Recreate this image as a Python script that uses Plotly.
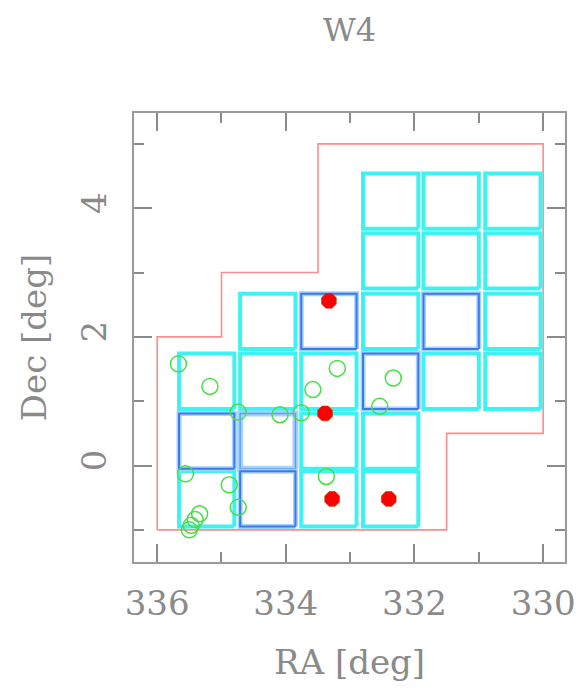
import plotly.graph_objects as go

# --- W4 field layout -------------------------------------------------------
# Survey footprint boundary (RA, Dec) in degrees
footprint_ra = [336.0, 336.0, 335.0, 335.0, 333.5, 333.5, 330.0, 330.0, 331.5, 331.5, 336.0]
footprint_dec = [-1.0, 2.0, 2.0, 3.0, 3.0, 5.0, 5.0, 0.5, 0.5, -1.0, -1.0]

# Pointing centres, grouped by status
field_half = 0.43  # half width of a pointing, deg

cyan_ra = [335.23, 333.33, 332.37,
           333.33, 332.37,
           335.23, 334.28, 333.33, 331.43, 330.47,
           334.28, 332.37, 330.47,
           332.37, 331.43, 330.47,
           332.37, 331.43, 330.47]
cyan_dec = [-0.52, -0.52, -0.52,
            0.38, 0.38,
            1.31, 1.31, 1.31, 1.31, 1.31,
            2.24, 2.24, 2.24,
            3.18, 3.18, 3.18,
            4.11, 4.11, 4.11]

light_ra = [334.28]
light_dec = [0.38]

blue_ra = [334.28, 335.23, 332.37, 333.33, 331.43]
blue_dec = [-0.52, 0.38, 1.31, 2.24, 2.24]

# Cluster candidates (open green circles)
cand_ra = [335.67, 335.18, 334.74, 334.09, 333.76, 333.58, 333.20, 332.33, 332.54,
           335.56, 334.88, 334.74, 333.37, 335.34, 335.41, 335.47, 335.50]
cand_dec = [1.58, 1.23, 0.83, 0.79, 0.82, 1.18, 1.51, 1.36, 0.92,
            -0.13, -0.30, -0.65, -0.17, -0.75, -0.84, -0.93, -1.00]

# Confirmed detections (filled red)
det_ra = [333.33, 333.39, 333.28, 332.40]
det_dec = [2.56, 0.81, -0.52, -0.52]


def square_path(ras, decs, h):
    xs, ys = [], []
    for r, d in zip(ras, decs):
        xs += [r - h, r + h, r + h, r - h, r - h, None]
        ys += [d - h, d - h, d + h, d + h, d - h, None]
    return xs, ys


fig = go.Figure()

fig.add_trace(go.Scatter(x=footprint_ra, y=footprint_dec, mode="lines",
                         line=dict(color="#ff8c8c", width=1.6), hoverinfo="skip"))

cx, cy = square_path(cyan_ra, cyan_dec, field_half)
fig.add_trace(go.Scatter(x=cx, y=cy, mode="lines",
                         line=dict(color="#3ff2f2", width=4), hoverinfo="skip"))

lx, ly = square_path(light_ra, light_dec, field_half)
fig.add_trace(go.Scatter(x=lx, y=ly, mode="lines",
                         line=dict(color="#a6d2ff", width=6), hoverinfo="skip"))
fig.add_trace(go.Scatter(x=lx, y=ly, mode="lines",
                         line=dict(color="#5e9ff5", width=1.5), hoverinfo="skip"))

bx, by = square_path(blue_ra, blue_dec, field_half)
fig.add_trace(go.Scatter(x=bx, y=by, mode="lines",
                         line=dict(color="#a6d2ff", width=5), hoverinfo="skip"))
fig.add_trace(go.Scatter(x=bx, y=by, mode="lines",
                         line=dict(color="#3a7aea", width=2), hoverinfo="skip"))

fig.add_trace(go.Scatter(x=cand_ra, y=cand_dec, mode="markers",
                         marker=dict(symbol="circle-open", size=16,
                                     line=dict(color="#45e045", width=1.5),
                                     color="#45e045"),
                         hoverinfo="skip"))

fig.add_trace(go.Scatter(x=det_ra, y=det_dec, mode="markers",
                         marker=dict(symbol="octagon", size=16, color="#ff0000",
                                     line=dict(color="#b03a00", width=0.6)),
                         hoverinfo="skip"))

font_family = "DejaVu Serif"
text_color = "#8a8a8a"

axis_common = dict(
    showline=True, linecolor="#9a9a9a", linewidth=2, mirror="allticks",
    ticks="inside", ticklen=18, tickwidth=1.5, tickcolor="#8a8a8a",
    showgrid=False, zeroline=False,
    tickfont=dict(family=font_family, size=34, color=text_color),
    minor=dict(ticks="inside", ticklen=10, tickwidth=1.5, tickcolor="#8a8a8a",
               dtick=1, showgrid=False),
    dtick=2,
)

fig.update_layout(
    width=588, height=694,
    margin=dict(l=134, r=23, t=113, b=132),
    paper_bgcolor="white", plot_bgcolor="white",
    showlegend=False,
    title=dict(text="W4", x=0.5, xref="paper", xanchor="center",
               y=1 - 30 / 694, yref="container", yanchor="middle",
               font=dict(family=font_family, size=32, color=text_color)),
    xaxis=dict(range=[336.36, 329.66], tick0=330,
               ticklabelstandoff=10,
               title=dict(text="RA [deg]", standoff=28,
                          font=dict(family=font_family, size=34, color=text_color)),
               **axis_common),
    yaxis=dict(range=[-1.5, 5.48], tick0=0, tickangle=-90,
               ticklabelstandoff=12,
               title=dict(text="Dec [deg]", standoff=18,
                          font=dict(family=font_family, size=34, color=text_color)),
               **axis_common),
)

fig.write_html("out.html")
